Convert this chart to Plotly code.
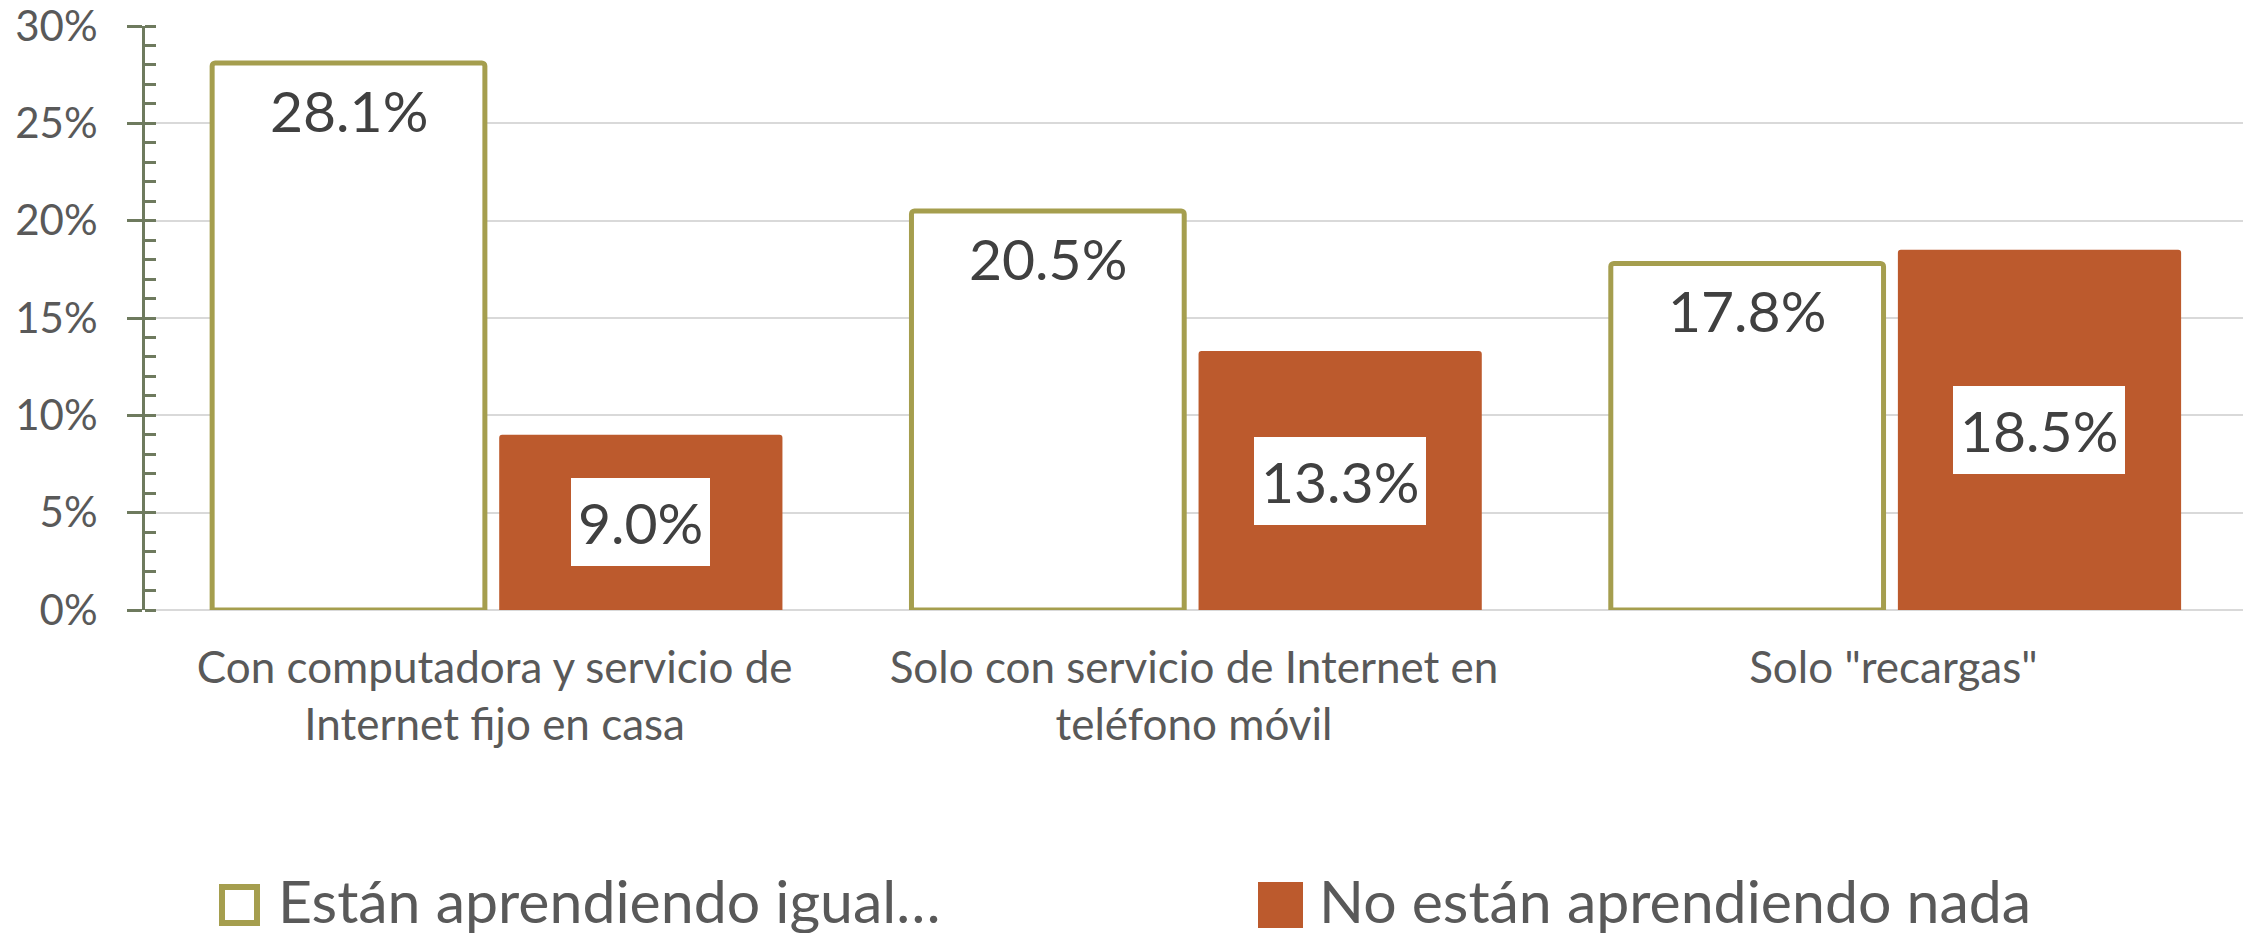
import plotly.graph_objects as go

# ---- data ----
categories = [
    "Con computadora y servicio de<br>Internet fijo en casa",
    "Solo con servicio de Internet en<br>teléfono móvil",
    'Solo "recargas"',
]
series_names = ["Están aprendiendo igual…", "No están aprendiendo nada"]
igual = [28.1, 20.5, 17.8]
nada = [9.0, 13.3, 18.5]
y_ticks = [0, 5, 10, 15, 20, 25, 30]
y_ticktext = [f"{v}%" for v in y_ticks]

# ---- style ----
W, H = 2252, 933
ML, MR, MT, MB = 145, 9, 26, 323
PW, PH = W - ML - MR, H - MT - MB
OLIVE = "#A59E4E"
ORANGE = "#BC5A2D"
AXIS = "#6E7A5E"
GRID = "#D9D9D9"
FONT = "Lato, 'Open Sans', sans-serif"
LABEL = "#404040"
TICK = "#595959"
OFF = 0.209
xs = list(range(len(categories)))


def px_x(px):
    return (px - ML) / PW


def px_y(py):
    return (H - MB - py) / PH


fig = go.Figure()
fig.add_bar(
    x=xs, y=igual, name=series_names[0], width=0.39, offset=-OFF - 0.195,
    marker=dict(color="white", line=dict(color=OLIVE, width=5), cornerradius=3),
    showlegend=False,
)
fig.add_bar(
    x=xs, y=nada, name=series_names[1], width=0.405, offset=OFF - 0.2025,
    marker=dict(color=ORANGE, line=dict(width=0), cornerradius=3),
    showlegend=False,
)

ann = []
for i, v in enumerate(igual):
    ann.append(dict(x=i - OFF, y=v, xref="x", yref="y", text=f"{v:.1f}%",
                    showarrow=False, yanchor="middle", yshift=-47,
                    font=dict(family=FONT, size=57, color=LABEL)))
for i, v in enumerate(nada):
    ann.append(dict(x=i + OFF, y=v / 2, xref="x", yref="y", text=f"{v:.1f}%",
                    showarrow=False, yanchor="middle", bgcolor="white", borderpad=7,
                    borderwidth=0, height=74, valign="middle",
                    font=dict(family=FONT, size=57, color=LABEL)))

# legend (manual, large swatches)
shapes = [
    dict(type="rect", xref="paper", yref="paper",
         x0=px_x(222), x1=px_x(257), y0=px_y(923), y1=px_y(887),
         fillcolor="white", line=dict(color=OLIVE, width=6)),
    dict(type="rect", xref="paper", yref="paper",
         x0=px_x(1258), x1=px_x(1303), y0=px_y(928), y1=px_y(882),
         fillcolor=ORANGE, line=dict(width=0)),
]
ann.append(dict(x=px_x(276), y=px_y(900), xref="paper", yref="paper", text=series_names[0],
                showarrow=False, xanchor="left", yanchor="middle",
                font=dict(family=FONT, size=59, color=TICK)))
ann.append(dict(x=px_x(1317), y=px_y(900), xref="paper", yref="paper", text=series_names[1],
                showarrow=False, xanchor="left", yanchor="middle",
                font=dict(family=FONT, size=59, color=TICK)))

fig.update_layout(
    width=W, height=H,
    margin=dict(l=ML, r=MR, t=MT, b=MB, pad=0),
    paper_bgcolor="white", plot_bgcolor="white",
    barmode="overlay",
    showlegend=False,
    annotations=ann,
    shapes=shapes,
    xaxis=dict(
        range=[-0.5, 2.5], tickvals=xs, ticktext=categories,
        showgrid=False, zeroline=False, showline=False, ticks="",
        tickfont=dict(family=FONT, size=44, color=TICK),
        ticklabelstandoff=28, automargin=False, ticklabeloverflow="allow",
    ),
    yaxis=dict(
        range=[0, 30], tickvals=y_ticks, ticktext=y_ticktext,
        showgrid=True, gridcolor=GRID, gridwidth=2,
        zeroline=True, zerolinecolor=GRID, zerolinewidth=2,
        showline=True, linecolor=AXIS, linewidth=3,
        ticks="outside", ticklen=15, tickwidth=3, tickcolor=AXIS,
        minor=dict(ticks="inside", ticklen=11, tickwidth=3, tickcolor=AXIS, dtick=1,
                   showgrid=False),
        tickfont=dict(family=FONT, size=42, color=TICK),
        ticklabelstandoff=21, automargin=False, ticklabeloverflow="allow",
    ),
    yaxis2=dict(
        range=[0, 30], overlaying="y", side="left", tickvals=y_ticks,
        showticklabels=False, showgrid=False, zeroline=False, showline=False,
        ticks="inside", ticklen=11, tickwidth=3, tickcolor=AXIS, automargin=False,
    ),
)

fig.write_html("out.html", config={"displayModeBar": False},
               post_script="document.body.style.margin='0';")
